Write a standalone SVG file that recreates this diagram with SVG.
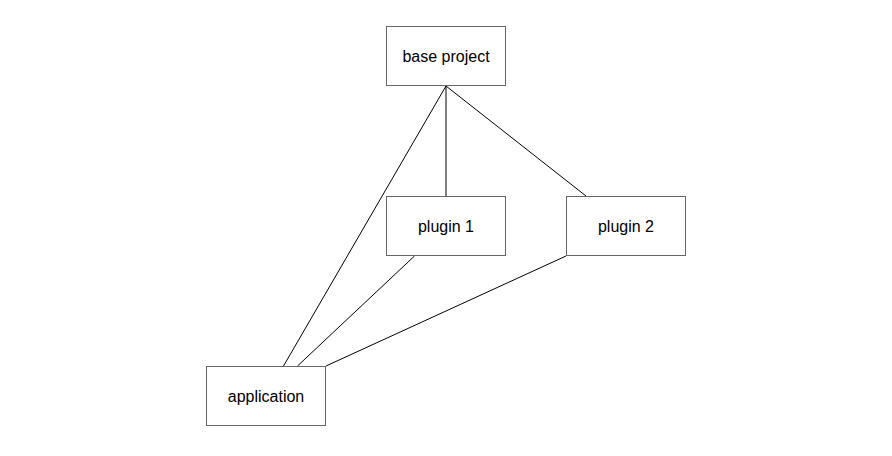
<svg xmlns="http://www.w3.org/2000/svg" width="892" height="456" viewBox="0 0 892 456">
<style>
.box{fill:#fff;stroke:#666;stroke-width:1}
.lbl{font-family:"Liberation Sans",Arial,sans-serif;font-size:16px;fill:#000;text-anchor:middle;dominant-baseline:central}
.edge{stroke:#000;stroke-width:1;fill:none}
</style>
<rect width="892" height="456" fill="#fff"/>
<g id="connectors">
<line class="edge" x1="446" y1="86" x2="446" y2="196"/>
<line class="edge" x1="446" y1="86" x2="586" y2="196"/>
<line class="edge" x1="446" y1="86" x2="283.5" y2="366"/>
<line class="edge" x1="414.5" y1="256" x2="297.5" y2="366"/>
<line class="edge" x1="566" y1="256" x2="326" y2="366"/>
</g>
<g id="base-project">
<rect class="box" x="386.5" y="26.5" width="119" height="59"/>
<text class="lbl" x="446" y="56">base project</text>
</g>
<g id="plugin-1">
<rect class="box" x="386.5" y="196.5" width="119" height="59"/>
<text class="lbl" x="446" y="226">plugin 1</text>
</g>
<g id="plugin-2">
<rect class="box" x="566.5" y="196.5" width="119" height="59"/>
<text class="lbl" x="626" y="226">plugin 2</text>
</g>
<g id="application">
<rect class="box" x="206.5" y="366.5" width="119" height="59"/>
<text class="lbl" x="266" y="396">application</text>
</g>
</svg>
